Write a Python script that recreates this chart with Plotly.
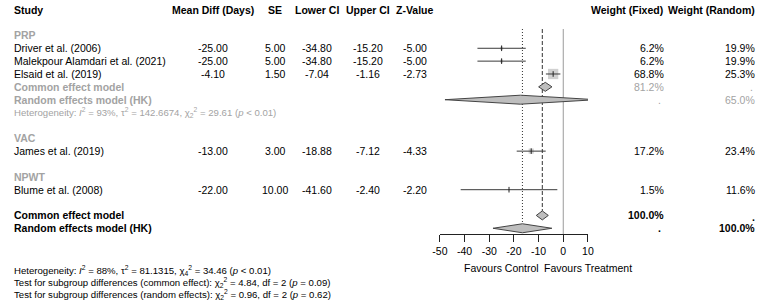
import numpy as np
import plotly.graph_objects as go

W, H = 767, 304

# ---------------- data ----------------
studies = ["Driver et al. (2006)", "Malekpour Alamdari et al. (2021)",
           "Elsaid et al. (2019)", "James et al. (2019)", "Blume et al. (2008)"]
groups = ["PRP", "PRP", "PRP", "VAC", "NPWT"]
mean_diff = [-25.00, -25.00, -4.10, -13.00, -22.00]
se = [5.00, 5.00, 1.50, 3.00, 10.00]
lower_ci = [-34.80, -34.80, -7.04, -18.88, -41.60]
upper_ci = [-15.20, -15.20, -1.16, -7.12, -2.40]
z_value = [-5.00, -5.00, -2.73, -4.33, -2.20]
weight_fixed = [6.2, 6.2, 68.8, 17.2, 1.5]
weight_random = [19.9, 19.9, 25.3, 23.4, 11.6]

# pooled estimates: (estimate, lower, upper)
prp_common = [-7.29, -9.99, -4.58]
prp_random = [-17.34, -47.97, 13.30]
prp_weight_fixed = 81.2
prp_weight_random = 65.0
overall_common = [-8.50, -10.94, -6.06]
overall_random = [-16.56, -28.50, -4.62]

x_ticks = [-50, -40, -30, -20, -10, 0, 10]

headers = ["Study", "Mean Diff (Days)", "SE", "Lower CI", "Upper CI", "Z-Value",
           "Weight (Fixed)", "Weight (Random)"]

# ---------------- layout constants ----------------
FONT = "Liberation Sans, Arial, sans-serif"
FS = 10.5
GRAY = "#a3a3a3"
ROW0, ROWH = 9.7, 12.857           # pixel y of row 0 and row height


def row_of_px(py):
    return (py - ROW0) / ROWH


# column x positions (px) and anchors
col_x = [6, 209, 272, 314.5, 367, 415, 668, 761]
col_anchor = ["left", "center", "center", "center", "center", "center", "right", "right"]
hdr_x = [6, 209, 272, 315, 366.5, 414.5, 667.5, 761]

study_rows = [3, 4, 5, 11, 14]
group_rows = {"PRP": 2, "VAC": 10, "NPWT": 13}
prp_common_row, prp_random_row, prp_het_row = 6, 7, 8
ov_common_row, ov_random_row = 16, 17
DH = 0.35  # diamond half-height in rows

fig = go.Figure()


def txt(xpx, y, s, anchor="left", color="black", size=FS, bold=False, yref="y"):
    fig.add_annotation(x=xpx / W, xref="paper", y=y, yref=yref, text=s,
                       showarrow=False, xanchor=anchor, yanchor="middle", align=anchor,
                       borderpad=0, borderwidth=0,
                       font=dict(family=FONT, size=size, color=color,
                                 weight="bold" if bold else "normal"))


# headers
for h, xp, an in zip(headers, hdr_x, col_anchor):
    txt(xp, 0, h, an, bold=True)

# subgroup labels
for g, r in group_rows.items():
    txt(6, r, g, "left", GRAY, bold=True)

# study rows
for i, r in enumerate(study_rows):
    vals = [studies[i], f"{mean_diff[i]:.2f}", f"{se[i]:.2f}", f"{lower_ci[i]:.2f}",
            f"{upper_ci[i]:.2f}", f"{z_value[i]:.2f}", f"{weight_fixed[i]:.1f}%",
            f"{weight_random[i]:.1f}%"]
    for v, xp, an in zip(vals, col_x, col_anchor):
        txt(xp, r, v, an)

# PRP subgroup model rows
txt(6, prp_common_row, "Common effect model", "left", GRAY, bold=True)
txt(col_x[6], prp_common_row, f"{prp_weight_fixed:.1f}%", "right", GRAY)
txt(col_x[7] - 2, prp_common_row, ".", "right", GRAY)
txt(6, prp_random_row, "Random effects model (HK)", "left", GRAY, bold=True)
txt(col_x[6] - 3, prp_random_row, ".", "right", GRAY)
txt(col_x[7], prp_random_row, f"{prp_weight_random:.1f}%", "right", GRAY)
txt(6, prp_het_row,
    "Heterogeneity: <i>I</i><sup>2</sup> = 93%, τ<sup>2</sup> = 142.6674, "
    "χ<sub>2</sub><sup>2</sup> = 29.61 (<i>p</i> &lt; 0.01)", "left", GRAY, size=9.6)

# overall rows
txt(6, ov_common_row, "Common effect model", "left", bold=True)
txt(col_x[6], ov_common_row, "100.0%", "right", bold=True)
txt(col_x[7], ov_common_row + 0.15, ".", "right", bold=True)
txt(6, ov_random_row, "Random effects model (HK)", "left", bold=True)
txt(col_x[6] - 3, ov_random_row, ".", "right", bold=True)
txt(col_x[7], ov_random_row, "100.0%", "right", bold=True)

# bottom text
bottom = [
    (270, "Heterogeneity: <i>I</i><sup>2</sup> = 88%, τ<sup>2</sup> = 81.1315, "
          "χ<sub>4</sub><sup>2</sup> = 34.46 (<i>p</i> &lt; 0.01)"),
    (282, "Test for subgroup differences (common effect): χ<sub>2</sub><sup>2</sup> = 4.84, "
          "df = 2 (<i>p</i> = 0.09)"),
    (294, "Test for subgroup differences (random effects): χ<sub>2</sub><sup>2</sup> = 0.96, "
          "df = 2 (<i>p</i> = 0.62)"),
]
for py, s in bottom:
    txt(6, 1 - py / H, s, "left", "black", size=9.6, yref="paper")

# favours labels
txt(541, 1 - 268 / H, "Favours Control", "right", yref="paper")
txt(546, 1 - 268 / H, "Favours Treatment", "left", yref="paper")

# ---------------- forest marks ----------------
top_row = row_of_px(29)
axis_row = row_of_px(234)

# reference lines
fig.add_trace(go.Scatter(x=[0, 0], y=[top_row, axis_row], mode="lines",
                         line=dict(color="#9a9a9a", width=1), hoverinfo="skip"))
fig.add_trace(go.Scatter(x=[overall_common[0]] * 2, y=[top_row, ov_common_row - DH],
                         mode="lines", line=dict(color="#333", width=1, dash="4px,2px"),
                         hoverinfo="skip"))
fig.add_trace(go.Scatter(x=[overall_random[0]] * 2, y=[top_row, ov_random_row - DH],
                         mode="lines", line=dict(color="#333", width=1, dash="1px,2px"),
                         hoverinfo="skip"))

# squares
fig.add_trace(go.Scatter(
    x=mean_diff, y=study_rows, mode="markers",
    marker=dict(symbol="square", size=[1.24 * np.sqrt(w) for w in weight_fixed],
                color="#bebebe", line=dict(width=0)), hoverinfo="skip"))

# CI lines
cx, cy = [], []
for lo, hi, r in zip(lower_ci, upper_ci, study_rows):
    cx += [lo, hi, None]
    cy += [r, r, None]
fig.add_trace(go.Scatter(x=cx, y=cy, mode="lines", line=dict(color="#3a3a3a", width=1),
                         hoverinfo="skip"))
# point ticks
fig.add_trace(go.Scatter(x=mean_diff, y=study_rows, mode="markers",
                         marker=dict(symbol="line-ns-open", size=4, color="#222",
                                     line=dict(width=1, color="#222")),
                         hoverinfo="skip"))

# diamonds
for (est, lo, hi), r in [(prp_common, prp_common_row), (prp_random, prp_random_row),
                         (overall_common, ov_common_row), (overall_random, ov_random_row)]:
    fig.add_trace(go.Scatter(x=[lo, est, hi, est, lo], y=[r, r - DH, r, r + DH, r],
                             mode="lines", fill="toself", fillcolor="#bebebe",
                             line=dict(color="#444", width=1), hoverinfo="skip"))

fig.update_layout(
    width=W, height=H, margin=dict(l=0, r=0, t=0, b=0),
    paper_bgcolor="white", plot_bgcolor="rgba(0,0,0,0)", showlegend=False,
    font=dict(family=FONT, size=FS, color="black"),
    xaxis=dict(domain=[440 / W, 590.7 / W], range=[-50, 10], tickvals=x_ticks,
               ticktext=[str(t) for t in x_ticks], showgrid=False, zeroline=False,
               showline=True, linecolor="#222", linewidth=1, ticks="outside",
               ticklen=7, tickcolor="#222", tickwidth=1, anchor="free",
               position=1 - 234 / H, tickfont=dict(family=FONT, size=FS, color="black"),
               fixedrange=True),
    yaxis=dict(domain=[0, 1], range=[row_of_px(H), row_of_px(0)], visible=False,
               fixedrange=True),
)

fig.write_html("out.html", config={"displayModeBar": False},
               post_script="document.body.style.margin='0px';document.body.style.padding='0px';")
